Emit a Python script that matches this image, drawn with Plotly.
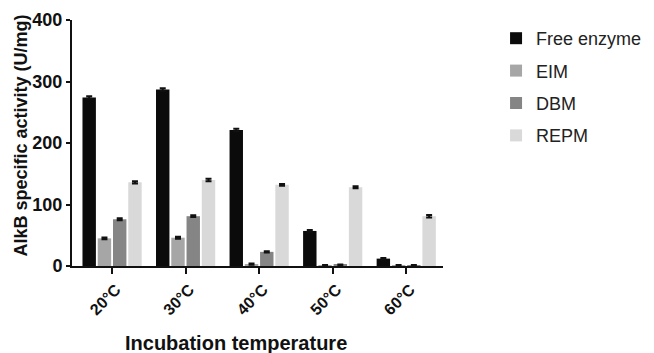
import plotly.graph_objects as go

categories = ["20°C", "30°C", "40°C", "50°C", "60°C"]
free_enzyme = [274, 287, 221, 57, 12]
free_err = [2, 2, 2, 1.5, 1]
eim = [45, 46, 3, 1, 1]
eim_err = [1.5, 1.5, 1, 0.5, 0.5]
dbm = [76, 81, 23, 2, 1]
dbm_err = [1.5, 1.5, 1, 0.5, 0.5]
repm = [136, 140, 132, 128, 81]
repm_err = [2, 2, 1.5, 1.5, 2]

series = [
    ("Free enzyme", free_enzyme, free_err, "#0b0b0b"),
    ("EIM", eim, eim_err, "#a6a6a6"),
    ("DBM", dbm, dbm_err, "#858585"),
    ("REPM", repm, repm_err, "#d9d9d9"),
]

FONT = "Liberation Sans, Arial, sans-serif"

fig = go.Figure()
for name, vals, errs, color in series:
    fig.add_trace(go.Bar(
        name=name, x=categories, y=vals,
        marker=dict(color=color, line=dict(width=0)),
        error_y=dict(type="data", array=errs, visible=True, color="#111111", thickness=2, width=3),
        legendgroup=name,
    ))

fig.update_layout(
    width=646, height=345,
    margin=dict(l=64, r=211, t=12, b=87, autoexpand=False),
    paper_bgcolor="white", plot_bgcolor="white",
    barmode="group", bargap=0.17, bargroupgap=0.12,
    font=dict(family=FONT, color="#111111"),
    showlegend=True,
    legend=dict(x=1.143, y=1.0, xanchor="left", yanchor="top",
                font=dict(size=18, color="#222222", family=FONT),
                traceorder="grouped", tracegroupgap=6,
                bgcolor="rgba(0,0,0,0)"),
    xaxis=dict(
        range=[-0.545, 4.5], automargin=False,
        tickvals=categories,
        ticktext=["<b>" + c + "</b>" for c in categories],
        showline=True, linecolor="#111111", linewidth=2,
        ticks="outside", ticklen=6, tickwidth=2, tickcolor="#111111",
        tickangle=-45, ticklabelshift=4,
        tickfont=dict(size=16, family=FONT, color="#111111"),
        showgrid=False, zeroline=False,
    ),
    yaxis=dict(
        range=[0, 400], automargin=False,
        tickvals=[0, 100, 200, 300, 400],
        ticktext=["<b>0</b>", "<b>100</b>", "<b>200</b>", "<b>300</b>", "<b>400</b>"],
        showline=True, linecolor="#111111", linewidth=2,
        ticks="outside", ticklen=4, tickwidth=2, tickcolor="#111111",
        tickfont=dict(size=18, color="#111111", family=FONT),
        showgrid=False, zeroline=False,
    ),
    annotations=[
        dict(text="<b>Incubation temperature</b>", xref="paper", yref="paper",
             x=0.442, y=-0.313, xanchor="center", yanchor="middle",
             showarrow=False, font=dict(size=20, family=FONT, color="#111111")),
        dict(text="<b>AlkB specific activity (U/mg)</b>", xref="paper", yref="paper",
             x=-0.1375, y=0.53, xanchor="center", yanchor="middle", textangle=-90,
             showarrow=False, font=dict(size=18, family=FONT, color="#111111")),
    ],
)

fig.write_html("out.html")
